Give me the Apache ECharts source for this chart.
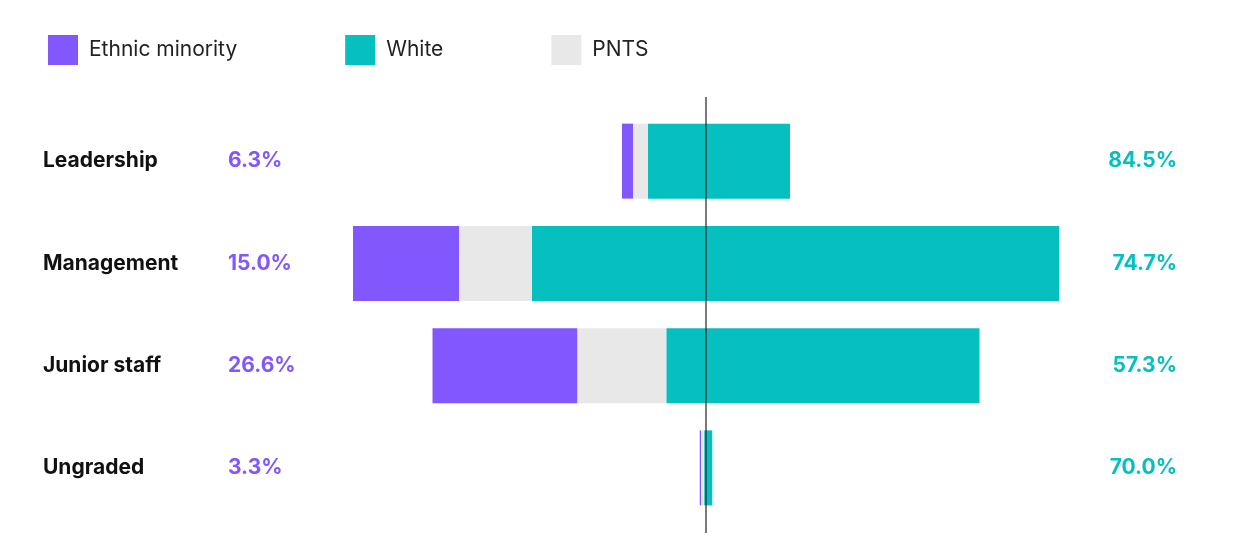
<!DOCTYPE html><html><head><meta charset="utf-8"><script src="https://cdn.jsdelivr.net/npm/echarts@6/dist/echarts.min.js"></script>
<style>html,body{margin:0;background:#fff}#c{width:1259px;height:559px}</style></head><body><div id="c"></div><script>
const categories=['Leadership','Management','Junior staff','Ungraded'];
const minorityPct=['6.3%','15.0%','26.6%','3.3%'];
const whitePct=['84.5%','74.7%','57.3%','70.0%'];
const minority=[11,106,145,1.5];
const pnts=[15,73,89,3];
const white=[142,527,313,8];
const AXMAX=812;
const base=categories.map((c,i)=>AXMAX/2-(minority[i]+pnts[i]+white[i])/2);
const P='#8257fe',T='#06bfbf',G='#e8e8e8';
const chart=echarts.init(document.getElementById('c'));
chart.setOption({
 animation:false,
 legend:{left:43,top:30,itemWidth:30,itemHeight:30,itemGap:108,icon:'rect',
  textStyle:{fontSize:21,color:'#222',fontFamily:'Inter',padding:[0,0,0,6]},
  data:['Ethnic minority','White','PNTS']},
 grid:{left:300,right:147,top:110,bottom:40},
 xAxis:{type:'value',min:0,max:AXMAX,show:false},
 yAxis:[{type:'category',inverse:true,data:categories,axisLine:{show:false},axisTick:{show:false},
  axisLabel:{align:'left',margin:257,formatter:(v,i)=>'{a|'+v+'}{b|'+minorityPct[i]+'}',
   rich:{a:{width:185,fontSize:21,fontWeight:'bold',color:'#111',fontFamily:'Inter'},
         b:{fontSize:21,fontWeight:'bold',color:P,fontFamily:'Inter'}}}},
  {type:'category',inverse:true,position:'right',data:whitePct,axisLine:{show:false},axisTick:{show:false},
   axisLabel:{align:'right',margin:65,fontSize:21,fontWeight:'bold',color:T,fontFamily:'Inter'}}],
 series:[
  {type:'bar',stack:'s',data:base,itemStyle:{color:'transparent'},barWidth:75,silent:true},
  {name:'Ethnic minority',type:'bar',stack:'s',data:minority,itemStyle:{color:P},barWidth:75},
  {name:'PNTS',type:'bar',stack:'s',data:pnts,itemStyle:{color:G},barWidth:75},
  {name:'White',type:'bar',stack:'s',data:white,itemStyle:{color:T},barWidth:75}
 ]
});
const cx=chart.convertToPixel({xAxisIndex:0},AXMAX/2);
chart.setOption({graphic:[{type:'line',shape:{x1:cx,y1:97,x2:cx,y2:533},style:{stroke:'#222',lineWidth:1.2},z:100}]});
</script></body></html>
